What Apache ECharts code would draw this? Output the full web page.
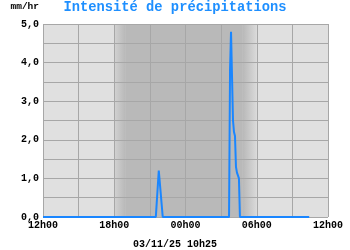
<!DOCTYPE html>
<html>
<head>
<meta charset="utf-8">
<script src="https://cdn.jsdelivr.net/npm/echarts@6/dist/echarts.min.js"></script>
<style>html,body{margin:0;padding:0;background:#fff}#c{width:350px;height:250px}</style>
</head>
<body>
<div id="c"></div>
<script>
// ---- data ----
const titleText = 'Intensité de précipitations';
const unitText = 'mm/hr';
const stampText = '03/11/25 10h25';
const xTickLabels = ['12h00', '18h00', '00h00', '06h00', '12h00'];
const yTickLabels = ['0,0', '1,0', '2,0', '3,0', '4,0', '5,0'];
const times = ['12h00', '21h30', '21h45', '21h55', '22h05',
  '03h40', '03h45', '03h50', '03h55', '04h00', '04h05', '04h10', '04h15', '04h20', '04h30', '04h35',
  '10h25'];
const rain = [0, 0, 1.2, 1.2, 0,
  0, 3.8, 4.8, 4.8, 2.5, 2.2, 2.1, 1.3, 1.15, 1.0, 0,
  0];
// night shading (dusk fade, night, dawn fade)
const duskStart = '18h00', duskEnd = '18h55', dawnStart = '04h50', dawnEnd = '06h00';

function toH(t) {
  const p = t.split('h');
  let h = parseInt(p[0], 10) + parseInt(p[1], 10) / 60 - 12;
  if (h < 0) h += 24;
  return h;
}
const seriesData = times.map((t, i) => [toH(t), rain[i]]);

const LIGHT = '#e0e0e0', DARK = '#b9b9b9';
const G = echarts.graphic.LinearGradient;

const chart = echarts.init(document.getElementById('c'), null, {renderer: 'canvas'});
chart.setOption({
  animation: false,
  grid: {left: 43, right: 22, top: 24, bottom: 33, show: true, backgroundColor: LIGHT, borderWidth: 0, z: 0},
  xAxis: {
    type: 'value', min: 0, max: 24, interval: 3, z: 2,
    axisLine: {show: false}, axisTick: {show: false},
    splitLine: {show: true, lineStyle: {color: '#a7a7a7', width: 1}},
    axisLabel: {
      margin: 3, color: '#000', fontFamily: 'Liberation Mono', fontWeight: 'bold', fontSize: 10,
      formatter: v => (Math.round(v) % 6 === 0 ? xTickLabels[Math.round(v) / 6] : '')
    }
  },
  yAxis: {
    type: 'value', min: 0, max: 5, interval: 0.5, z: 2,
    axisLine: {show: false}, axisTick: {show: false},
    splitLine: {show: true, lineStyle: {color: '#a7a7a7', width: 1}},
    axisLabel: {
      margin: 4, color: '#000', fontFamily: 'Liberation Mono', fontWeight: 'bold', fontSize: 10,
      formatter: v => (Math.abs(v - Math.round(v)) < 1e-6 ? yTickLabels[Math.round(v)] : '')
    }
  },
  series: [
    {
      type: 'line', data: [], z: 1, silent: true,
      markArea: {
        silent: true,
        data: [
          [{xAxis: toH(duskStart), itemStyle: {color: new G(0, 0, 1, 0, [{offset: 0, color: '#d2d2d2'}, {offset: 1, color: DARK}])}}, {xAxis: toH(duskEnd)}],
          [{xAxis: toH(duskEnd), itemStyle: {color: DARK}}, {xAxis: toH(dawnStart)}],
          [{xAxis: toH(dawnStart), itemStyle: {color: new G(0, 0, 1, 0, [{offset: 0, color: DARK}, {offset: 1, color: '#dadada'}])}}, {xAxis: toH(dawnEnd)}]
        ]
      }
    },
    {
      type: 'line', data: seriesData, z: 3, showSymbol: false, symbol: 'none',
      lineStyle: {color: '#1a86ff', width: 2}
    }
  ],
  graphic: [
    {type: 'text', x: 175, y: 8, style: {text: titleText, align: 'center', verticalAlign: 'middle', fill: '#1e8fff', font: 'bold 13.75px "Liberation Mono"'}},
    {type: 'text', x: 39, y: 7, style: {text: unitText, align: 'right', verticalAlign: 'middle', fill: '#000', font: 'bold 9.5px "Liberation Mono"'}},
    {type: 'text', x: 175, y: 244, style: {text: stampText, align: 'center', verticalAlign: 'middle', fill: '#000', font: 'bold 10px "Liberation Mono"'}}
  ]
});
</script>
</body>
</html>
